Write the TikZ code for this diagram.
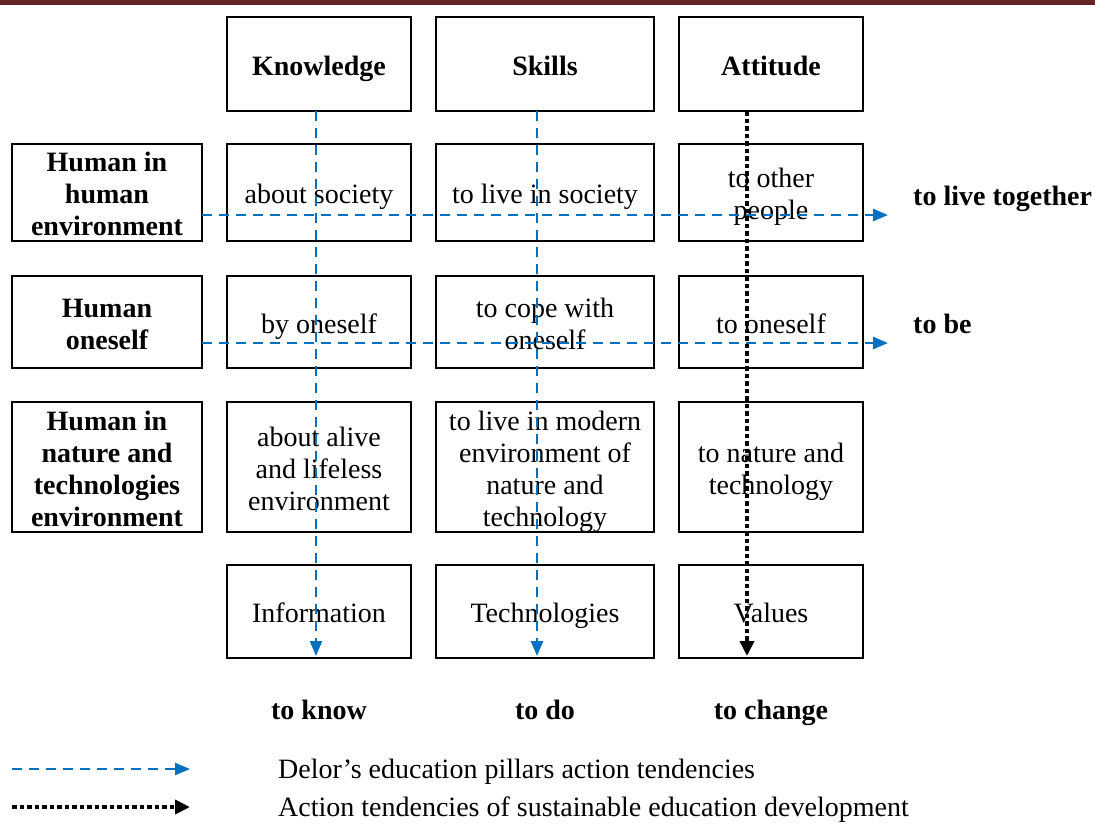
\documentclass[tikz,border=0pt]{standalone}
\usepackage{fontspec}
\setmainfont{Liberation Serif}
\usetikzlibrary{arrows.meta}
\definecolor{barred}{HTML}{632423}
\definecolor{delorblue}{HTML}{0070C0}
\newcommand{\cb}[1]{\raisebox{-5pt}[\height][\depth]{\begin{tabular}{@{}c@{}}#1\end{tabular}}}
\tikzset{
  cell/.style={draw, line width=1.6pt, inner sep=0pt,
    font=\fontsize{28}{32}\selectfont},
  headcell/.style={cell, font=\fontsize{28}{32}\selectfont\bfseries},
  lbl/.style={inner sep=0pt, anchor=base, font=\fontsize{28}{32}\selectfont\bfseries},
  legtext/.style={inner sep=0pt, anchor=base west, font=\fontsize{28}{32}\selectfont},
  bluearrow/.style={draw=delorblue, line width=2.5pt, dash pattern=on 10pt off 7pt,
    -{Triangle[length=15pt,width=12pt,fill=delorblue]}},
  blackarrow/.style={draw=black, line width=4pt, dash pattern=on 4.5pt off 3pt,
    -{Triangle[length=15pt,width=14pt]}}
}
\begin{document}
\begin{tikzpicture}[x=1pt,y=-1pt]
\useasboundingbox (0,0) rectangle (1095,825);
\fill[barred] (0,0) rectangle (1095,5);

% header row
\node[headcell, minimum width=184, minimum height=94] (k) at (319,64) {\cb{Knowledge}};
\node[headcell, minimum width=218, minimum height=94] (s) at (545,64) {\cb{Skills}};
\node[headcell, minimum width=184, minimum height=94] (a) at (771,64) {\cb{Attitude}};

% row labels
\node[headcell, minimum width=190, minimum height=97] (h1) at (107,192.5) {\cb{Human in\\human\\environment}};
\node[headcell, minimum width=190, minimum height=92] (h2) at (107,322) {\cb{Human\\oneself}};
\node[headcell, minimum width=190, minimum height=130] (h3) at (107,467) {\cb{Human in\\nature and\\technologies\\environment}};

% row 1
\node[cell, minimum width=184, minimum height=97] (k1) at (319,192.5) {\cb{about society}};
\node[cell, minimum width=218, minimum height=97] (s1) at (545,192.5) {\cb{to live in society}};
\node[cell, minimum width=184, minimum height=97] (a1) at (771,192.5) {\cb{to other\\people}};
% row 2
\node[cell, minimum width=184, minimum height=92] (k2) at (319,322) {\cb{by oneself}};
\node[cell, minimum width=218, minimum height=92] (s2) at (545,322) {\cb{to cope with\\oneself}};
\node[cell, minimum width=184, minimum height=92] (a2) at (771,322) {\cb{to oneself}};
% row 3
\node[cell, minimum width=184, minimum height=130] (k3) at (319,467) {\cb{about alive\\and lifeless\\environment}};
\node[cell, minimum width=218, minimum height=130] (s3) at (545,467) {\cb{to live in modern\\environment of\\nature and\\technology}};
\node[cell, minimum width=184, minimum height=130] (a3) at (771,467) {\cb{to nature and\\technology}};
% row 4
\node[cell, minimum width=184, minimum height=93] (k4) at (319,611.5) {\cb{Information}};
\node[cell, minimum width=218, minimum height=93] (s4) at (545,611.5) {\cb{Technologies}};
\node[cell, minimum width=184, minimum height=93] (a4) at (771,611.5) {\cb{Values}};

% outcome labels
\node[lbl, anchor=base west] (togeth) at (913,205) {to live together};
\node[lbl, anchor=base west] (tobe) at (913,333) {to be};
\node[lbl] (know) at (319,719) {to know};
\node[lbl] (todo) at (545,719) {to do};
\node[lbl] (change) at (771,719) {to change};

% arrow end points
\coordinate (kt) at (316,111);
\coordinate (kb) at (316,656);
\coordinate (st) at (537,111);
\coordinate (sb) at (537,656);
\coordinate (at) at (747,111);
\coordinate (ab) at (747,656);
\coordinate (r1s) at (202,215);
\coordinate (r1e) at (888,215);
\coordinate (r2s) at (202,343);
\coordinate (r2e) at (888,343);

\draw[bluearrow] (kt) -- (kb);
\draw[bluearrow] (st) -- (sb);
\draw[bluearrow] (r1s) -- (r1e);
\draw[bluearrow] (r2s) -- (r2e);
\draw[blackarrow] (at) -- (ab);

% legend
\coordinate (l1s) at (12,769);
\coordinate (l1e) at (190,769);
\coordinate (l2s) at (12,807);
\coordinate (l2e) at (190,807);
\draw[bluearrow] (l1s) -- (l1e);
\draw[blackarrow] (l2s) -- (l2e);
\node[legtext] (leg1) at (278,778) {Delor’s education pillars action tendencies};
\node[legtext] (leg2) at (278,816) {Action tendencies of sustainable education development};
\end{tikzpicture}
\end{document}
